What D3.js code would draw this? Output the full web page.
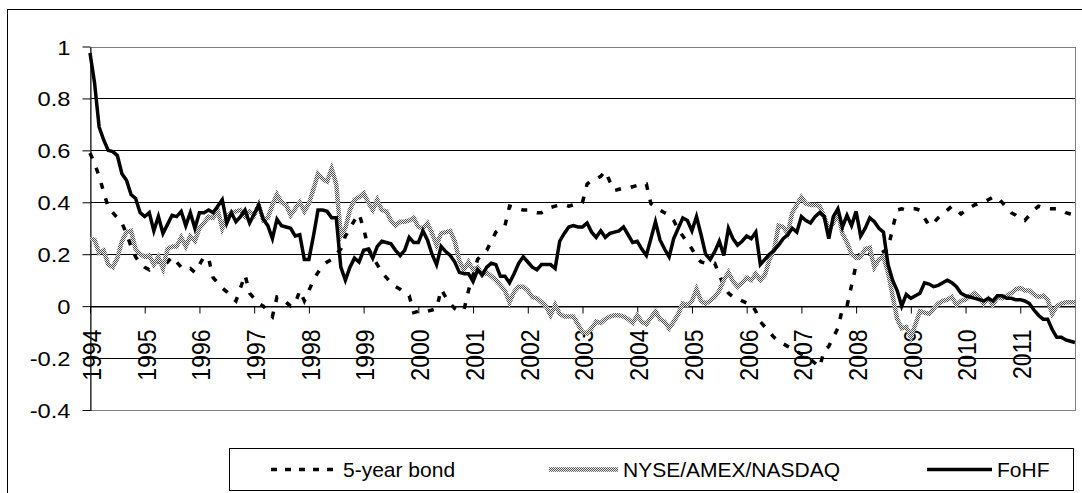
<!DOCTYPE html>
<html>
<head>
<meta charset="utf-8">
<script src="https://cdn.jsdelivr.net/npm/d3@7"></script>
<style>
  html, body { margin: 0; padding: 0; background: #fff; }
  svg { display: block; }
  text { font-family: "Liberation Sans", Arial, sans-serif; fill: #000; }
</style>
</head>
<body>
<div id="chart"></div>
<script>
// year labels, one every 12 months starting Jan 1994
const years = ["1994", "1995", "1996", "1997", "1998", "1999", "2000", "2001", "2002",
    "2003", "2004", "2005", "2006", "2007", "2008", "2009", "2010", "2011"];

const yTicks = [-0.4, -0.2, 0, 0.2, 0.4, 0.6, 0.8, 1];

const seriesNames = ["5-year bond", "NYSE/AMEX/NASDAQ", "FoHF"];

// monthly values
const bond = [
    0.59, 0.55, 0.50, 0.44, 0.38, 0.36, 0.34, 0.32, 0.28, 0.23,
    0.19, 0.165, 0.15, 0.14, 0.16, 0.175, 0.15, 0.17, 0.19, 0.17,
    0.15, 0.14, 0.145, 0.13, 0.16, 0.19, 0.185, 0.11, 0.09, 0.07,
    0.055, 0.035, 0.02, 0.07, 0.12, 0.05, 0.03, 0.01, 0.0, -0.02,
    -0.04, 0.035, 0.03, 0.015, 0.0, 0.01, 0.06, 0.02, 0.06, 0.10,
    0.13, 0.155, 0.17, 0.18, 0.20, 0.22, 0.27, 0.30, 0.33, 0.355,
    0.30, 0.225, 0.19, 0.16, 0.13, 0.11, 0.09, 0.075, 0.065, 0.05,
    0.04, -0.025, -0.02, -0.02, -0.02, -0.015, -0.01, 0.065, 0.035, 0.01,
    -0.01, -0.02, -0.015, 0.06, 0.12, 0.18, 0.20, 0.215, 0.25, 0.285,
    0.30, 0.31, 0.385, 0.38, 0.375, 0.37, 0.37, 0.365, 0.36, 0.36,
    0.37, 0.38, 0.385, 0.39, 0.39, 0.385, 0.39, 0.395, 0.40, 0.47,
    0.485, 0.49, 0.50, 0.52, 0.48, 0.445, 0.45, 0.455, 0.455, 0.46,
    0.465, 0.47, 0.47, 0.395, 0.38, 0.37, 0.36, 0.35, 0.33, 0.295,
    0.27, 0.245, 0.22, 0.19, 0.17, 0.165, 0.165, 0.165, 0.12, 0.08,
    0.05, 0.035, 0.03, 0.02, 0.012, 0.01, -0.02, -0.06, -0.08, -0.10,
    -0.12, -0.135, -0.145, -0.155, -0.165, -0.175, -0.185, -0.195, -0.205, -0.22,
    -0.235, -0.17, -0.155, -0.12, -0.085, -0.01, 0.0, 0.08, 0.16, 0.21,
    0.21, 0.20, 0.19, 0.20, 0.21, 0.22, 0.30, 0.37, 0.375, 0.37,
    0.375, 0.375, 0.37, 0.34, 0.31, 0.32, 0.34, 0.355, 0.37, 0.385,
    0.37, 0.355, 0.37, 0.38, 0.39, 0.395, 0.40, 0.41, 0.42, 0.42,
    0.40, 0.38, 0.36, 0.35, 0.335, 0.33, 0.35, 0.37, 0.385, 0.38,
    0.375, 0.375, 0.375, 0.37, 0.36, 0.355, 0.35
];

const nyse = [
    0.26, 0.255, 0.205, 0.215, 0.16, 0.15, 0.185, 0.25, 0.285, 0.29,
    0.22, 0.20, 0.19, 0.195, 0.16, 0.19, 0.145, 0.22, 0.23, 0.23,
    0.265, 0.23, 0.27, 0.25, 0.30, 0.32, 0.345, 0.34, 0.37, 0.30,
    0.345, 0.36, 0.365, 0.37, 0.345, 0.365, 0.35, 0.39, 0.33, 0.34,
    0.39, 0.43, 0.40, 0.39, 0.35, 0.375, 0.40, 0.365, 0.395, 0.45,
    0.51, 0.49, 0.48, 0.53, 0.47, 0.27, 0.30, 0.37, 0.41, 0.42,
    0.435, 0.40, 0.37, 0.41, 0.37, 0.365, 0.33, 0.31, 0.325, 0.325,
    0.33, 0.34, 0.305, 0.30, 0.32, 0.28, 0.235, 0.28, 0.285, 0.29,
    0.25, 0.175, 0.14, 0.17, 0.14, 0.15, 0.12, 0.13, 0.115, 0.10,
    0.08, 0.06, 0.015, 0.055, 0.075, 0.075, 0.06, 0.035, 0.03, 0.015,
    0.0, -0.035, 0.005, -0.03, -0.04, -0.04, -0.04, -0.07, -0.10, -0.105,
    -0.085, -0.06, -0.065, -0.05, -0.04, -0.035, -0.035, -0.04, -0.05, -0.065,
    -0.035, -0.06, -0.07, -0.045, -0.02, -0.05, -0.06, -0.085, -0.06, -0.03,
    0.01, 0.005, 0.02, 0.065, 0.02, 0.01, 0.02, 0.035, 0.06, 0.10,
    0.13, 0.095, 0.075, 0.09, 0.11, 0.10, 0.125, 0.10, 0.12, 0.18,
    0.215, 0.31, 0.305, 0.28, 0.36, 0.39, 0.42, 0.395, 0.39, 0.39,
    0.385, 0.345, 0.295, 0.32, 0.36, 0.28, 0.245, 0.20, 0.185, 0.19,
    0.22, 0.225, 0.15, 0.18, 0.19, 0.13, 0.04, -0.05, -0.085, -0.08,
    -0.12, -0.07, -0.02, -0.025, -0.03, -0.01, 0.01, 0.02, 0.025, 0.035,
    0.005, 0.02, 0.025, 0.04, 0.05, 0.035, 0.01, 0.03, 0.005, 0.035,
    0.03, 0.04, 0.05, 0.065, 0.07, 0.06, 0.06, 0.045, 0.035, 0.04,
    0.025, -0.03, 0.0, 0.01, 0.015, 0.015, 0.015
];

const fohf = [
    0.975, 0.86, 0.69, 0.64, 0.60, 0.595, 0.58, 0.51, 0.485, 0.43,
    0.415, 0.36, 0.345, 0.36, 0.29, 0.345, 0.28, 0.315, 0.35, 0.345,
    0.365, 0.31, 0.36, 0.30, 0.36, 0.36, 0.37, 0.36, 0.385, 0.41,
    0.32, 0.36, 0.325, 0.345, 0.37, 0.32, 0.355, 0.39, 0.335, 0.31,
    0.26, 0.335, 0.31, 0.305, 0.30, 0.27, 0.275, 0.18, 0.18, 0.27,
    0.37, 0.37, 0.365, 0.34, 0.34, 0.15, 0.10, 0.15, 0.185, 0.17,
    0.215, 0.22, 0.185, 0.23, 0.25, 0.245, 0.24, 0.215, 0.195, 0.215,
    0.265, 0.245, 0.245, 0.29, 0.255, 0.20, 0.16, 0.23, 0.21, 0.195,
    0.17, 0.13, 0.125, 0.125, 0.095, 0.14, 0.12, 0.15, 0.165, 0.16,
    0.115, 0.115, 0.09, 0.125, 0.165, 0.19, 0.17, 0.15, 0.14, 0.16,
    0.16, 0.16, 0.145, 0.25, 0.28, 0.305, 0.31, 0.305, 0.305, 0.32,
    0.285, 0.265, 0.29, 0.265, 0.28, 0.285, 0.29, 0.305, 0.275, 0.245,
    0.25, 0.22, 0.195, 0.26, 0.325, 0.255, 0.22, 0.19, 0.26, 0.30,
    0.34, 0.33, 0.29, 0.345, 0.275, 0.20, 0.18, 0.21, 0.25, 0.195,
    0.30, 0.26, 0.235, 0.25, 0.27, 0.26, 0.285, 0.16, 0.18, 0.20,
    0.215, 0.235, 0.26, 0.275, 0.30, 0.285, 0.345, 0.33, 0.32, 0.345,
    0.36, 0.345, 0.26, 0.345, 0.375, 0.305, 0.35, 0.31, 0.365, 0.27,
    0.30, 0.34, 0.325, 0.30, 0.285, 0.16, 0.10, 0.06, 0.0, 0.045,
    0.03, 0.04, 0.05, 0.09, 0.085, 0.075, 0.08, 0.09, 0.10, 0.09,
    0.075, 0.05, 0.04, 0.035, 0.03, 0.025, 0.02, 0.03, 0.02, 0.04,
    0.04, 0.03, 0.03, 0.025, 0.025, 0.02, 0.01, -0.015, -0.035, -0.05,
    -0.05, -0.09, -0.12, -0.12, -0.13, -0.135, -0.14
];

const width = 1082, height = 493;
const plot = { left: 90, right: 1075, top: 46.5, bottom: 410 };
const textStretch = 1.13;   // the picture is a bit wider than tall

const svg = d3.select("#chart").append("svg")
    .attr("width", width)
    .attr("height", height);

// dithered grey used by the NYSE line
const pat = svg.append("defs").append("pattern")
    .attr("id", "dither")
    .attr("width", 2).attr("height", 2)
    .attr("patternUnits", "userSpaceOnUse");
pat.append("rect").attr("width", 2).attr("height", 2).attr("fill", "#ececec");
pat.append("rect").attr("width", 1).attr("height", 1).attr("fill", "#505050");
pat.append("rect").attr("x", 1).attr("y", 1).attr("width", 1).attr("height", 1).attr("fill", "#505050");

// outer chart border (cut off at right / bottom like the picture)
svg.append("rect")
    .attr("x", 7.5).attr("y", 9.5)
    .attr("width", 1090).attr("height", 500)
    .attr("fill", "none").attr("stroke", "#000");

const x = d3.scaleLinear().domain([0, fohf.length - 1]).range([plot.left, plot.right]);
const y = d3.scaleLinear().domain([-0.4, 1]).range([plot.bottom, plot.top]);

// gridlines
svg.append("g")
    .selectAll("line")
    .data(yTicks.filter(v => v > -0.4 && v < 1))
    .join("line")
    .attr("x1", plot.left).attr("x2", plot.right)
    .attr("y1", d => Math.round(y(d)) + 0.5)
    .attr("y2", d => Math.round(y(d)) + 0.5)
    .attr("stroke", "#000");

// plot area border
svg.append("rect")
    .attr("x", plot.left + 0.5)
    .attr("y", Math.round(plot.top) + 0.5)
    .attr("width", plot.right - plot.left)
    .attr("height", Math.round(plot.bottom) - Math.round(plot.top))
    .attr("fill", "none")
    .attr("stroke", "#808080");

// y axis
const fmt = v => (v < 0 ? "-" : "") + d3.format("~g")(Math.abs(v));
const yAxis = svg.append("g")
    .attr("transform", `translate(${plot.left + 0.5},0.5)`)
    .call(d3.axisLeft(y).tickValues(yTicks).tickSize(8).tickSizeOuter(0).tickFormat(fmt));
yAxis.select(".domain").attr("stroke", "#000");
yAxis.selectAll(".tick line").attr("stroke", "#000").attr("transform", "translate(0,-0.5)");
yAxis.selectAll(".tick text")
    .attr("x", 0)
    .attr("dy", "0.36em")
    .attr("transform", `translate(-20,-0.5) scale(${textStretch},1)`)
    .style("font-size", "21px")
    .style("font-family", "'Liberation Sans', Arial, sans-serif");

// x axis on the zero line
const monthTicks = years.map((_, i) => i * 12);
const xAxis = svg.append("g")
    .attr("transform", `translate(0,${Math.round(y(0)) + 0.5})`)
    .call(d3.axisBottom(x).tickValues(monthTicks).tickSize(7).tickSizeOuter(0)
        .tickFormat((d, i) => years[i]));
xAxis.select(".domain").attr("stroke", "#000");
xAxis.selectAll(".tick line").attr("stroke", "#000");
xAxis.selectAll(".tick text")
    .attr("x", 0).attr("y", 0)
    .attr("dy", "0.36em")
    .attr("text-anchor", "end")
    .attr("transform", `translate(1,${329 - Math.round(y(0))}) scale(${textStretch},1) rotate(-90)`)
    .style("font-size", "23px")
    .style("font-family", "'Liberation Sans', Arial, sans-serif");

// series
const line = d3.line()
    .x((d, i) => x(i))
    .y(d => y(d))
    .curve(d3.curveLinear);

const lines = svg.append("g").attr("fill", "none").attr("stroke-linejoin", "miter");

lines.append("path")
    .datum(bond)
    .attr("d", line)
    .attr("stroke", "#000")
    .attr("stroke-width", 3.5)
    .attr("stroke-dasharray", "6,10");

lines.append("path")
    .datum(nyse)
    .attr("d", line)
    .attr("stroke", "url(#dither)")
    .attr("stroke-width", 4.5);

lines.append("path")
    .datum(fohf)
    .attr("d", line)
    .attr("stroke", "#000")
    .attr("stroke-width", 3.5);

// legend
const legend = svg.append("g");
legend.append("rect")
    .attr("x", 229.5).attr("y", 448.5)
    .attr("width", 844).attr("height", 42)
    .attr("fill", "#fff").attr("stroke", "#000");

const legendItems = [
    { name: seriesNames[0], x0: 271, x1: 338, stroke: "#000", width: 3.5, dash: "6,8" },
    { name: seriesNames[1], x0: 549, x1: 618, stroke: "url(#dither)", width: 4.5, dash: null },
    { name: seriesNames[2], x0: 927, x1: 992, stroke: "#000", width: 3.5, dash: null }
];
const ly = 469.5;
const li = legend.selectAll("g.item").data(legendItems).join("g").attr("class", "item");
li.append("line")
    .attr("x1", d => d.x0).attr("x2", d => d.x1)
    .attr("y1", ly).attr("y2", ly)
    .attr("stroke", d => d.stroke)
    .attr("stroke-width", d => d.width)
    .attr("stroke-dasharray", d => d.dash);
li.append("text")
    .attr("transform", d => `translate(${d.x1 + 5},${ly})`)
    .attr("dy", "0.36em")
    .style("font-size", "21px")
    .text(d => d.name);
</script>
</body>
</html>
